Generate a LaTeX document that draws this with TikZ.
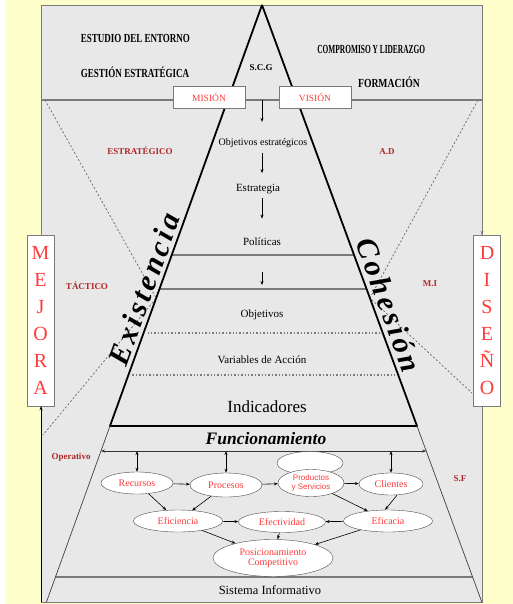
\documentclass[tikz,border=0pt]{standalone}
\usepackage{fontspec}
\setmainfont{Liberation Serif}
\newfontfamily\arialfam{Liberation Sans}
\usetikzlibrary{arrows.meta,calc,shapes.geometric,positioning}

\definecolor{bgyellow}{HTML}{FFFFCC}
\definecolor{panelgray}{HTML}{E8E8E8}
\definecolor{rimgray}{HTML}{7A7A7A}
\definecolor{txtred}{HTML}{FF3B3B}
\definecolor{lblred}{HTML}{B02828}

\begin{document}
\begin{tikzpicture}[x=1pt,y=-1pt,
  arr/.style={-{Stealth[length=4pt,width=3pt]},line width=0.6pt},
  dblarr/.style={{Stealth[length=4pt,width=3pt]}-{Stealth[length=4pt,width=3pt]},line width=0.6pt},
  toplbl/.style={font=\bfseries\fontsize{11}{12}\selectfont,xscale=0.82,yscale=1.12,anchor=west},
  sidelbl/.style={font=\bfseries\fontsize{9}{10}\selectfont,text=lblred},
  redbox/.style={draw=rimgray,fill=white,minimum width=72pt,minimum height=22pt,
    text=txtred,font=\fontsize{9.5}{10}\selectfont},
  tallbox/.style={draw=rimgray,fill=white,minimum width=27pt,minimum height=171pt,
    inner sep=0pt,align=center,text=txtred,font=\fontsize{20}{27}\selectfont},
  oval/.style={ellipse,draw=black!70,fill=white,inner sep=0pt,text=txtred,
    font=\fontsize{10}{10.5}\selectfont,align=center},
  steptxt/.style={font=\fontsize{11}{12}\selectfont},
  layer/.style={rimgray,line width=1.5pt},
  dotlayer/.style={rimgray,line width=1.2pt,dash pattern=on 1.4pt off 2pt},
  xdash/.style={black!60,line width=0.7pt,dash pattern=on 2pt off 2pt},
  bigword/.style={font=\bfseries\itshape\fontsize{30}{31}\selectfont\addfontfeatures{LetterSpace=11}},
]

\newcommand\tilt{70}

%% background and panel
\fill[white] (0,0) rectangle (513,604);
\fill[bgyellow] (6,0) rectangle (513,604);
\useasboundingbox (0,0) rectangle (513,604);
\filldraw[fill=panelgray,draw=rimgray,line width=0.8pt] (41,5) rectangle (482,602);

%% pyramid frame
\coordinate (apex) at (262,5);
\coordinate (baseL) at (110,426);
\coordinate (baseR) at (417,426);
\coordinate (footL) at ($(apex)!1.418!(baseL)$);
\coordinate (footR) at ($(apex)!1.418!(baseR)$);
\coordinate (pinchL) at ($(apex)!0.696!(baseL)$);
\coordinate (pinchR) at ($(apex)!0.696!(baseR)$);

%% dashed hourglass
\draw[xdash] (45,100) -- (pinchL) -- (43,435);
\draw[xdash] (478,100) -- (pinchR) -- (472,393);

\draw[rimgray,line width=1.5pt] (41,100) -- (482,100);

%% layers
\draw[layer] ($(apex)!0.594!(baseL)$) -- ($(apex)!0.594!(baseR)$);
\draw[layer] ($(apex)!0.6746!(baseL)$) -- ($(apex)!0.6746!(baseR)$);
\draw[dotlayer] ($(apex)!0.779!(baseL)+(4,0)$) -- ($(apex)!0.779!(baseR)+(-3,0)$);
\draw[dotlayer] ($(apex)!0.879!(baseL)+(4,0)$) -- ($(apex)!0.879!(baseR)+(-3,0)$);
\draw[layer] ($(apex)!1.3587!(baseL)$) -- ($(apex)!1.3587!(baseR)$);

\draw[black!75,line width=0.7pt] (baseL) -- (footL);
\draw[black!75,line width=0.7pt] (baseR) -- (footR);
\draw[line width=1.8pt,line join=bevel] (baseL) -- (apex) -- (baseR) -- cycle;

\coordinate (fL) at ($(apex)!1.0594!(baseL)$);
\coordinate (fR) at ($(apex)!1.0594!(baseR)$);
\draw[dblarr,black!80] (fL) -- (fR);

%% top labels
\node[toplbl] (entorno) at (78,38) {ESTUDIO DEL ENTORNO};
\node[toplbl] (gestion) at (78,72) {GESTIÓN ESTRATÉGICA};
\node[toplbl,xscale=0.82] (compromiso) at (315,49) {COMPROMISO Y LIDERAZGO};
\node[toplbl,xscale=1.07] (formacion) at (355,82) {FORMACIÓN};
\node[font=\bfseries\fontsize{9}{10}\selectfont] (scg) at (261,68) {S.C.G};

\node[redbox] (mision) at (209,97) {MISIÓN};
\node[redbox] (vision) at (315,97) {VISIÓN};

%% inside the pyramid
\coordinate (topmid) at (262,100);
\node[font=\fontsize{10}{11}\selectfont] (objest) at (263,143) {Objetivos estratégicos};
\node[steptxt] (estrat) at (258,189) {Estrategia};
\node[steptxt] (polit) at (262,242) {Políticas};
\node[steptxt] (objet) at (262,315) {Objetivos};
\node[steptxt] (varacc) at (262,360) {Variables de Acción};
\node[font=\fontsize{17}{18}\selectfont] (indic) at (267,407) {Indicadores};
\node[font=\bfseries\itshape\fontsize{17.5}{18}\selectfont] (funcion) at (266,439) {Funcionamiento};
\node[font=\fontsize{12.5}{13}\selectfont] (sisinf) at (270,590) {Sistema Informativo};

\coordinate (tacTop) at (262,255);
\coordinate (tacBot) at (262,289);
\draw[arr,shorten >=13pt] (topmid) -- (objest.north -| topmid);
\draw[arr,shorten <=2pt,shorten >=7.5pt] (objest.south -| topmid) -- (estrat.north -| topmid);
\draw[arr,shorten <=1pt,shorten >=16pt] (estrat.south -| topmid) -- (polit.north -| topmid);
\draw[arr,shorten <=17pt,shorten >=4pt] (tacTop) -- (tacBot);

%% slanted words
\node[bigword,rotate=\tilt] (existencia) at (144,289) {Existencia};
\node[bigword,rotate=-\tilt] (cohesion) at (389,305) {Cohesión};

%% side labels
\node[sidelbl] (estratlbl) at (140,151) {ESTRATÉGICO};
\node[sidelbl] (ad) at (387,152) {A.D};
\node[sidelbl] (tactico) at (87,286) {TÁCTICO};
\node[sidelbl] (mi) at (430,284) {M.I};
\node[sidelbl] (operativo) at (71,457) {Operativo};
\node[sidelbl] (sf) at (460,479) {S.F};

%% side boxes
\node[tallbox] (mejora) at (40.5,320.5) {M\\E\\J\\O\\R\\A};
\node[tallbox] (diseno) at (487,320.5) {D\\I\\S\\E\\Ñ\\O};
\coordinate (pnlSW) at (41,602);
\coordinate (pnlNE) at (482,5);
\draw[arr,line width=0.8pt] (pnlSW) -- (pnlSW |- mejora.south);
\draw[arr,line width=0.8pt,rimgray] (pnlNE) -- (pnlNE |- diseno.north);

%% operative ovals
\node[oval,minimum width=72pt,minimum height=22pt] (recursos) at (137,483) {Recursos};
\node[oval,minimum width=72pt,minimum height=24pt] (procesos) at (226,485) {Procesos};
\node[oval,minimum width=66pt,minimum height=23pt] (prodback) at (310,463) {};
\node[oval,minimum width=66pt,minimum height=27pt,font=\arialfam\fontsize{8}{8.5}\selectfont] (prodserv) at (311,483) {Productos\\y Servicios};
\node[oval,minimum width=64pt,minimum height=22pt] (clientes) at (391,484) {Clientes};
\node[oval,minimum width=89pt,minimum height=22pt] (eficiencia) at (178,521) {Eficiencia};
\node[oval,minimum width=87pt,minimum height=21pt] (efectiv) at (282,522) {Efectividad};
\node[oval,minimum width=89pt,minimum height=22pt] (eficacia) at (388,521) {Eficacia};
\node[oval,minimum width=120pt,minimum height=37pt] (posic) at (273,558) {Posicionamiento\\Competitivo};

\draw[dblarr] (recursos.north |- fL) -- (recursos.north);
\draw[dblarr] (procesos.north |- fL) -- (procesos.north);
\draw[dblarr] (clientes.north |- fL) -- (clientes.north);

\draw[arr] (recursos) -- (procesos);
\draw[arr] (procesos) -- (prodserv);
\draw[arr] (prodserv) -- (clientes);
\draw[arr] (recursos) -- (eficiencia);
\draw[arr] (procesos) -- (eficiencia);
\draw[arr] (prodserv) -- (eficacia);
\draw[arr] ([xshift=6pt]clientes.south) -- ([xshift=-3pt]eficacia.north);
\draw[arr] (eficiencia) -- (efectiv);
\draw[arr] (eficacia) -- (efectiv);
\draw[arr] (eficiencia) -- (posic);
\draw[arr] (efectiv) -- (posic);
\draw[arr] (eficacia) -- (posic);

\end{tikzpicture}
\end{document}
